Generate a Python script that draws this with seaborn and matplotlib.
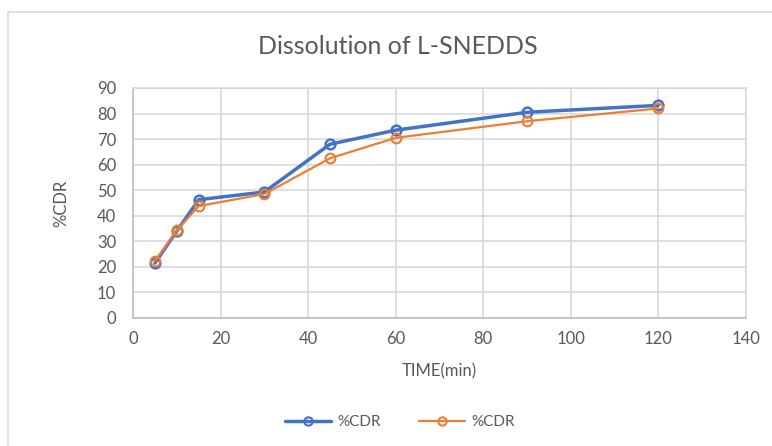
import matplotlib
matplotlib.use("Agg")
import matplotlib.pyplot as plt
import seaborn as sns
import pandas as pd
from matplotlib.lines import Line2D

time_min = [5, 10, 15, 30, 45, 60, 90, 120]
cdr_a = [21.5, 34.0, 46.3, 49.3, 68.0, 73.5, 80.5, 83.2]
cdr_b = [22.3, 34.3, 43.8, 48.5, 62.5, 70.5, 77.0, 82.0]
series_names = ["%CDR", "%CDR"]

sns.set_theme(style="white")
plt.rcParams['font.family'] = ['Lato', 'DejaVu Sans']

fig = plt.figure(figsize=(7.72, 4.46), dpi=100)
W, H = 772, 446
ax = fig.add_axes([133 / W, 1 - 318 / H, (746 - 133) / W, (318 - 88) / H])

blue = "#4472C4"
orange = "#ED7D31"
grid_c = "#D9D9D9"
text_c = "#595959"

df_a = pd.DataFrame({"t": time_min, "v": cdr_a})
df_b = pd.DataFrame({"t": time_min, "v": cdr_b})
sns.lineplot(data=df_a, x="t", y="v", ax=ax, color=blue, lw=2.5, marker="o",
             markersize=7, markerfacecolor="none", markeredgecolor=blue, markeredgewidth=1.8)
sns.lineplot(data=df_b, x="t", y="v", ax=ax, color=orange, lw=1.6, marker="o",
             markersize=7, markerfacecolor="none", markeredgecolor=orange, markeredgewidth=1.5)

ax.set_xlim(0, 140)
ax.set_ylim(0, 90)
ax.set_xticks(range(0, 141, 20))
ax.set_yticks(range(0, 91, 10))
ax.grid(True, color=grid_c, lw=1.2)
ax.set_axisbelow(True)
for s in ax.spines.values():
    s.set_color(grid_c)
    s.set_linewidth(1.2)
ax.spines['left'].set_color("#BFBFBF")
ax.spines['bottom'].set_color("#BFBFBF")
ax.tick_params(axis='both', colors=text_c, labelsize=12, length=0)
ax.tick_params(axis='x', pad=9)
ax.tick_params(axis='y', pad=12)
ax.set_xlabel("TIME(min)", fontsize=12, color=text_c, labelpad=12)
ax.set_ylabel("%CDR", fontsize=12, color=text_c, labelpad=20)
fig.text(0.5 * (250 + 545) / W, 1 - 47 / H, "Dissolution of L-SNEDDS", ha="center", va="center",
         fontsize=18, color=text_c)

handles = [
    Line2D([0], [0], color=blue, lw=2.5, marker="o", markersize=6, markerfacecolor="none",
           markeredgecolor=blue, markeredgewidth=1.5),
    Line2D([0], [0], color=orange, lw=1.6, marker="o", markersize=6, markerfacecolor="none",
           markeredgecolor=orange, markeredgewidth=1.5),
]
fig.legend(handles, series_names, loc="center", bbox_to_anchor=(400 / W, 1 - 422 / H), ncol=2,
           frameon=False, fontsize=11, labelcolor=text_c, handlelength=3, columnspacing=2.5,
           handletextpad=0.4)

# outer chart frame
fig.add_artist(Line2D([8 / W, 8 / W], [0, 1 - 12 / H], transform=fig.transFigure, color="#D9D9D9", lw=1.2))
fig.add_artist(Line2D([8 / W, 1], [1 - 12 / H, 1 - 12 / H], transform=fig.transFigure, color="#D9D9D9", lw=1.2))

fig.savefig("out.png", dpi=100, facecolor="white")
